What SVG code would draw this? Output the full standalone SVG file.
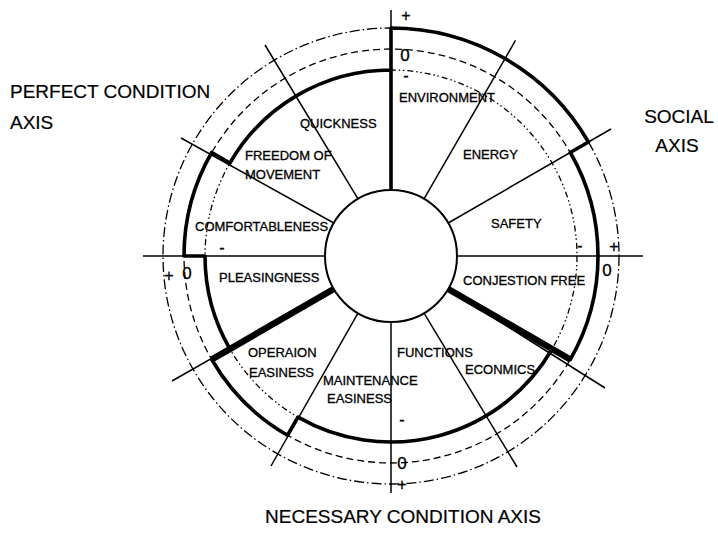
<svg xmlns="http://www.w3.org/2000/svg" width="718" height="533" viewBox="0 0 718 533">
<style>
text{font-family:"Liberation Sans",Arial,sans-serif;fill:#000;stroke:#000;stroke-width:0.3}
.lbl{font-size:13px}
.big{font-size:19px;stroke-width:0.2}
.sc{font-size:16px;text-anchor:middle}
.ring{fill:none;stroke:#000;stroke-width:1.3}
.rp{stroke-dasharray:10 3 1.5 3}
.r0{stroke-dasharray:7 4}
.rm{stroke-dasharray:6 3 1.5 2.5 1.5 3}
.sp{stroke:#000;stroke-width:1.5;fill:none}
.thick{stroke:#000;stroke-width:3.6;fill:none;stroke-linejoin:round}
.heavy{stroke:#000;stroke-width:6.5;fill:none}
</style>
<rect width="718" height="533" fill="#fff"/>
<g id="rings">
<circle class="ring rp" cx="391" cy="256" r="228"/>
<circle class="ring r0" cx="391" cy="256" r="207"/>
<circle class="ring rm" cx="391" cy="256" r="186"/>
</g>
<g id="connectors">
<line class="sp" x1="424" y1="198.8" x2="515.5" y2="40.4"/>
<line class="sp" x1="448.2" y1="223" x2="611" y2="129"/>
<line class="sp" x1="457" y1="256" x2="643" y2="256"/>
<line class="sp" x1="448.2" y1="289" x2="605" y2="388"/>
<line class="sp" x1="424" y1="313.2" x2="517" y2="467"/>
<line class="sp" x1="391" y1="322" x2="391" y2="493"/>
<line class="sp" x1="358" y1="313.2" x2="271" y2="466"/>
<line class="sp" x1="333.8" y1="289" x2="172" y2="381"/>
<line class="sp" x1="325" y1="256" x2="143" y2="256"/>
<line class="sp" x1="333.8" y1="223" x2="181" y2="138"/>
<line class="sp" x1="358" y1="198.8" x2="265" y2="45"/>
<line class="sp" x1="391" y1="190" x2="391" y2="10"/>
<line class="heavy" x1="448.2" y1="289" x2="570.3" y2="359.5"/>
<line class="heavy" x1="333.8" y1="289" x2="211.7" y2="359.5"/>
</g>
<g id="profile">
<path class="thick" d="M391,190 L391,28 A228,228 0 0 1 588.45,142 L570.27,152.5 A207,207 0 0 1 570.27,359.5 L552.08,349 A186,186 0 0 1 298,417.08 L287.5,435.27 A207,207 0 0 1 211.73,359.5 L229.92,349 A186,186 0 0 1 205,256 L184,256 A207,207 0 0 1 211.73,152.5 L229.92,163 A186,186 0 0 1 391,70"/>
</g>
<g id="hub">
<circle cx="391" cy="256" r="66" fill="#fff" stroke="#000" stroke-width="2"/>
</g>
<g id="sectors">
<g id="quickness"><text class="lbl" x="300" y="128">QUICKNESS</text></g>
<g id="environment"><text class="lbl" x="399" y="102">ENVIRONMENT</text></g>
<g id="energy"><text class="lbl" x="463" y="159">ENERGY</text></g>
<g id="safety"><text class="lbl" x="491" y="228">SAFETY</text></g>
<g id="conjestion"><text class="lbl" x="463" y="285">CONJESTION FREE</text></g>
<g id="econmics"><text class="lbl" x="465" y="374">ECONMICS</text></g>
<g id="functions"><text class="lbl" x="397" y="357">FUNCTIONS</text></g>
<g id="maintenance"><text class="lbl" x="323" y="385">MAINTENANCE</text><text class="lbl" x="327" y="403">EASINESS</text></g>
<g id="operaion"><text class="lbl" x="248" y="357">OPERAION</text><text class="lbl" x="249" y="377">EASINESS</text></g>
<g id="pleasingness"><text class="lbl" x="219" y="282">PLEASINGNESS</text></g>
<g id="comfortableness"><text class="lbl" x="195" y="231">COMFORTABLENESS</text></g>
<g id="freedom"><text class="lbl" x="245" y="160">FREEDOM OF</text><text class="lbl" x="245" y="179">MOVEMENT</text></g>
</g>
<g id="scale">
<text class="sc" x="406" y="21">+</text>
<text class="sc" x="405" y="61" style="font-size:17px">0</text>
<text class="sc" x="406" y="81">-</text>
<text class="sc" x="580" y="251">-</text>
<text class="sc" x="614" y="252">+</text>
<text class="sc" x="607" y="276" style="font-size:17px">0</text>
<text class="sc" x="222" y="253">-</text>
<text class="sc" x="169" y="281">+</text>
<text class="sc" x="187" y="279" style="font-size:17px">0</text>
<text class="sc" x="402" y="425">-</text>
<text class="sc" x="402" y="469" style="font-size:17px">0</text>
<text class="sc" x="402" y="490">+</text>
</g>
<g id="axes">
<text class="big" x="10" y="98">PERFECT CONDITION</text>
<text class="big" x="10" y="129">AXIS</text>
<text class="big" x="679" y="123" text-anchor="middle">SOCIAL</text>
<text class="big" x="677" y="152" text-anchor="middle">AXIS</text>
<text class="big" x="403" y="523" text-anchor="middle">NECESSARY CONDITION AXIS</text>
</g>
</svg>
